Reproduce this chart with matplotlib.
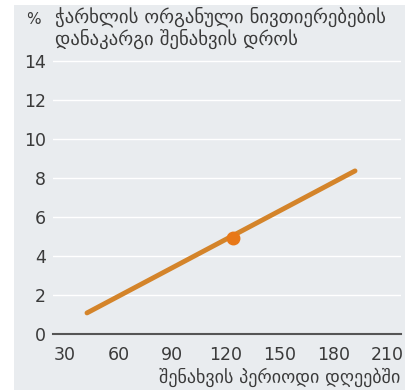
import matplotlib
matplotlib.use("Agg")
import matplotlib.pyplot as plt
from matplotlib.patches import Rectangle

# Storage loss of beet organic matter vs. storage period
days = [42.3, 192.1]
loss_pct = [1.08, 8.36]
marker_day = [124]
marker_loss = [4.92]

x_ticks = [30, 60, 90, 120, 150, 180, 210]
y_ticks = [0, 2, 4, 6, 8, 10, 12, 14]

title = "ჭარხლის ორგანული ნივთიერებების\nდანაკარგი შენახვის დროს"
x_label = "შენახვის პერიოდი დღეებში"
y_unit = "%"

W, H = 406, 390
fig = plt.figure(figsize=(W / 100, H / 100), dpi=100)
fig.patch.set_facecolor("white")

panel = "#e9ecef"
text_col = "#3a3a3a"
font = ["DejaVu Sans"]

fig.add_artist(Rectangle((14 / W, 0), 1 - 14 / W, 1 - 5 / H,
                         transform=fig.transFigure, facecolor=panel,
                         edgecolor="none", zorder=0))

left, right = 53 / W, 401 / W
bottom, top = 1 - 334 / H, 1 - 55 / H
ax = fig.add_axes([left, bottom, right - left, top - bottom])
ax.set_facecolor(panel)
ax.set_xlim(23.3, 217.8)
ax.set_ylim(0, 14.3)

for s in ["top", "right", "left"]:
    ax.spines[s].set_visible(False)
ax.spines["bottom"].set_color("#555555")
ax.spines["bottom"].set_linewidth(1.5)

ax.set_xticks(x_ticks)
ax.set_yticks(y_ticks)
ax.tick_params(length=0, labelsize=12.5, colors=text_col)
ax.tick_params(axis="x", pad=9)
ax.tick_params(axis="y", pad=5)
for lab in ax.get_xticklabels() + ax.get_yticklabels():
    lab.set_family(font)

ax.grid(axis="y", color="white", linewidth=1.0)
ax.set_axisbelow(True)

ax.plot(days, loss_pct, color="#d4842a", linewidth=3.5,
        solid_capstyle="round", zorder=3)
ax.plot(marker_day, marker_loss, "o", color="#e87818", markersize=9,
        zorder=4)

fig.text(26 / W, 1 - 20 / H, y_unit, family=font, fontsize=11,
         color=text_col, va="center", ha="left")
fig.text(55 / W, 1 - 7 / H, title, family=font, fontsize=13.5,
         color=text_col, va="top", ha="left", linespacing=1.1)
fig.text(400 / W, 1 - 377 / H, x_label, family=font, fontsize=13,
         color=text_col, va="center", ha="right")

fig.savefig("out.png", dpi=100, facecolor="white")
